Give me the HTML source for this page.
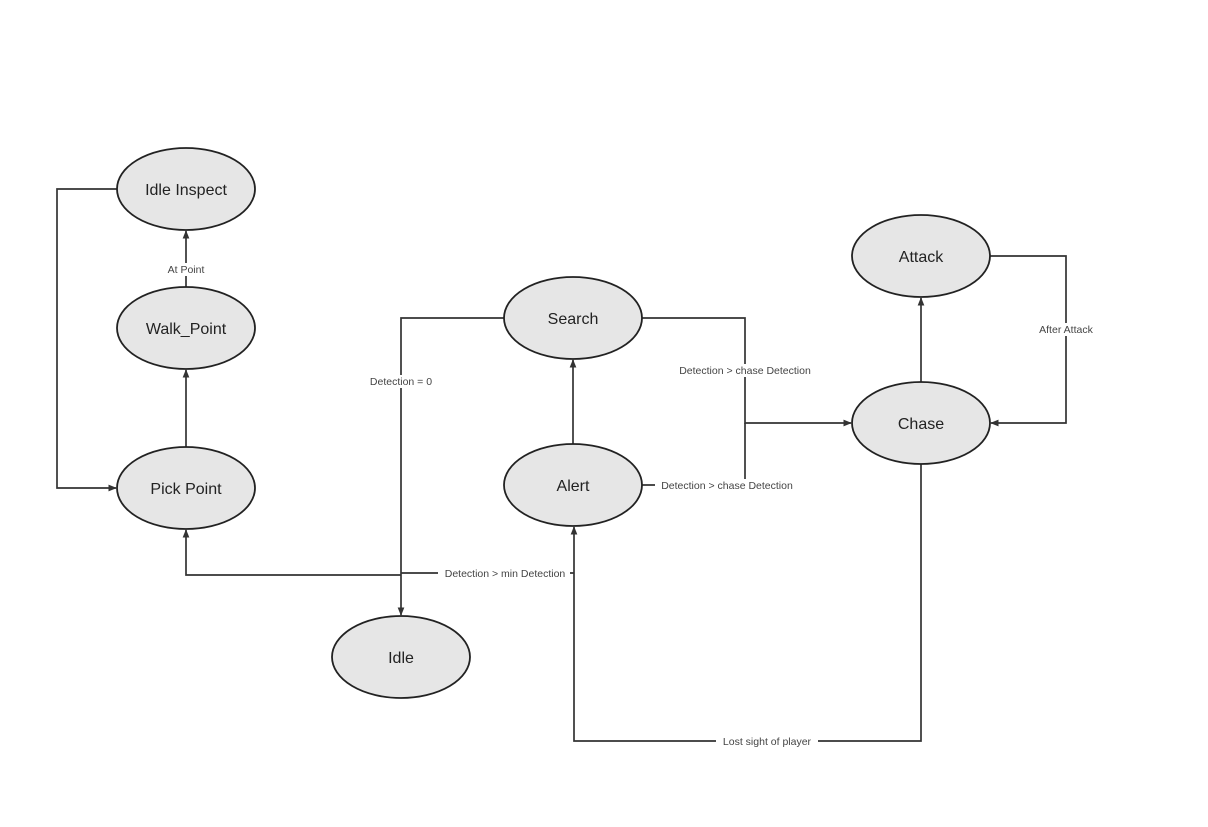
<!DOCTYPE html>
<html><head><style>body{margin:0;background:#fff}svg{display:block}</style></head><body>
<svg width="1208" height="827" viewBox="0 0 1208 827" xmlns="http://www.w3.org/2000/svg" font-family="Liberation Sans, sans-serif">
<defs><marker id="a" viewBox="0 0 10 10" refX="9" refY="5" markerWidth="5" markerHeight="5" orient="auto"><path d="M0,1 L10,5 L0,9 z" fill="#333"/></marker></defs>
<g fill="none" stroke="#333" stroke-width="1.7">
<path d="M117,189 H57 V488 H116" marker-end="url(#a)"/>
<path d="M186,287 V231" marker-end="url(#a)"/>
<path d="M186,447 V370" marker-end="url(#a)"/>
<path d="M401,575 H186 V530" marker-end="url(#a)"/>
<path d="M504,318 H401 V615" marker-end="url(#a)"/>
<path d="M401,573 H574"/>
<path d="M921,464 V741 H574 V527" marker-end="url(#a)"/>
<path d="M573,444 V360" marker-end="url(#a)"/>
<path d="M642,318 H745 V423 H851" marker-end="url(#a)"/>
<path d="M642,485 H745 V423"/>
<path d="M921,382 V298" marker-end="url(#a)"/>
<path d="M990,256 H1066 V423 H991" marker-end="url(#a)"/>
</g>
<g fill="#e6e6e6" stroke="#222" stroke-width="1.8">
<ellipse cx="186" cy="189" rx="69" ry="41"/>
<ellipse cx="186" cy="328" rx="69" ry="41"/>
<ellipse cx="186" cy="488" rx="69" ry="41"/>
<ellipse cx="573" cy="318" rx="69" ry="41"/>
<ellipse cx="573" cy="485" rx="69" ry="41"/>
<ellipse cx="401" cy="657" rx="69" ry="41"/>
<ellipse cx="921" cy="256" rx="69" ry="41"/>
<ellipse cx="921" cy="423" rx="69" ry="41"/>
</g>
<g font-size="16" fill="#222" text-anchor="middle">
<text x="186" y="195">Idle Inspect</text>
<text x="186" y="334">Walk_Point</text>
<text x="186" y="494">Pick Point</text>
<text x="573" y="324">Search</text>
<text x="573" y="491">Alert</text>
<text x="401" y="663">Idle</text>
<text x="921" y="262">Attack</text>
<text x="921" y="429">Chase</text>
</g>
<g font-size="10.5" fill="#444" text-anchor="middle">
<rect x="162" y="263" width="48" height="13" fill="#fff"/><text x="186" y="273">At Point</text>
<rect x="366" y="375" width="70" height="13" fill="#fff"/><text x="401" y="385">Detection = 0</text>
<rect x="438" y="567" width="132" height="13" fill="#fff"/><text x="505" y="577">Detection &gt; min Detection</text>
<rect x="675" y="364" width="140" height="13" fill="#fff"/><text x="745" y="374">Detection &gt; chase Detection</text>
<rect x="655" y="479" width="142" height="13" fill="#fff"/><text x="727" y="489">Detection &gt; chase Detection</text>
<rect x="1034" y="323" width="64" height="13" fill="#fff"/><text x="1066" y="333">After Attack</text>
<rect x="716" y="735" width="102" height="13" fill="#fff"/><text x="767" y="745">Lost sight of player</text>
</g>
</svg>
</body></html>
